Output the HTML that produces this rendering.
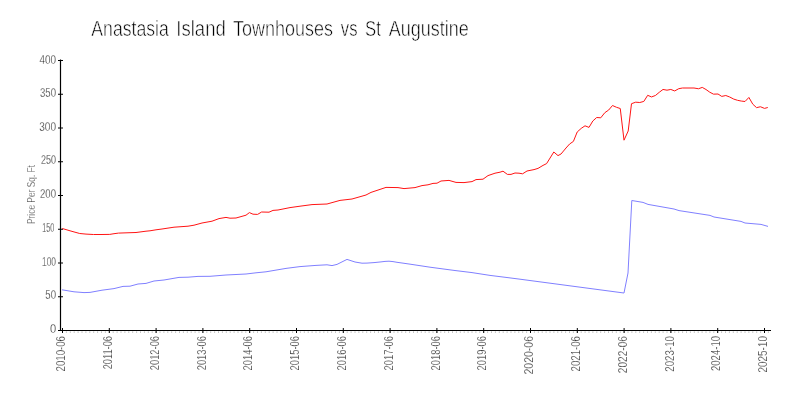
<!DOCTYPE html>
<html><head><meta charset="utf-8"><title>Anastasia Island Townhouses vs St Augustine</title>
<style>html,body{margin:0;padding:0;background:#fff}svg{display:block}text{font-family:"Liberation Sans",sans-serif}</style></head><body>
<svg width="800" height="400" viewBox="0 0 800 400">
<rect width="800" height="400" fill="#fff"/>
<path d="M66.40 331.3V333 M70.30 331.3V333 M74.20 331.3V333 M78.10 331.3V333 M82.00 331.3V333 M85.90 331.3V333 M89.80 331.3V333 M93.70 331.3V333 M97.60 331.3V333 M101.50 331.3V333 M105.40 331.3V333 M109.30 331.3V333 M113.20 331.3V333 M117.10 331.3V333 M121.00 331.3V333 M124.90 331.3V333 M128.80 331.3V333 M132.70 331.3V333 M136.60 331.3V333 M140.50 331.3V333 M144.40 331.3V333 M148.30 331.3V333 M152.20 331.3V333 M156.10 331.3V333 M160.00 331.3V333 M163.90 331.3V333 M167.80 331.3V333 M171.70 331.3V333 M175.60 331.3V333 M179.50 331.3V333 M183.40 331.3V333 M187.30 331.3V333 M191.20 331.3V333 M195.10 331.3V333 M199.00 331.3V333 M202.90 331.3V333 M206.80 331.3V333 M210.70 331.3V333 M214.60 331.3V333 M218.50 331.3V333 M222.40 331.3V333 M226.30 331.3V333 M230.20 331.3V333 M234.10 331.3V333 M238.00 331.3V333 M241.90 331.3V333 M245.80 331.3V333 M249.70 331.3V333 M253.60 331.3V333 M257.50 331.3V333 M261.40 331.3V333 M265.30 331.3V333 M269.20 331.3V333 M273.10 331.3V333 M277.00 331.3V333 M280.90 331.3V333 M284.80 331.3V333 M288.70 331.3V333 M292.60 331.3V333 M296.50 331.3V333 M300.40 331.3V333 M304.30 331.3V333 M308.20 331.3V333 M312.10 331.3V333 M316.00 331.3V333 M319.90 331.3V333 M323.80 331.3V333 M327.70 331.3V333 M331.60 331.3V333 M335.50 331.3V333 M339.40 331.3V333 M343.30 331.3V333 M347.20 331.3V333 M351.10 331.3V333 M355.00 331.3V333 M358.90 331.3V333 M362.80 331.3V333 M366.70 331.3V333 M370.60 331.3V333 M374.50 331.3V333 M378.40 331.3V333 M382.30 331.3V333 M386.20 331.3V333 M390.10 331.3V333 M394.00 331.3V333 M397.90 331.3V333 M401.80 331.3V333 M405.70 331.3V333 M409.60 331.3V333 M413.50 331.3V333 M417.40 331.3V333 M421.30 331.3V333 M425.20 331.3V333 M429.10 331.3V333 M433.00 331.3V333 M436.90 331.3V333 M440.80 331.3V333 M444.70 331.3V333 M448.60 331.3V333 M452.50 331.3V333 M456.40 331.3V333 M460.30 331.3V333 M464.20 331.3V333 M468.10 331.3V333 M472.00 331.3V333 M475.90 331.3V333 M479.80 331.3V333 M483.70 331.3V333 M487.60 331.3V333 M491.50 331.3V333 M495.40 331.3V333 M499.30 331.3V333 M503.20 331.3V333 M507.10 331.3V333 M511.00 331.3V333 M514.90 331.3V333 M518.80 331.3V333 M522.70 331.3V333 M526.60 331.3V333 M530.50 331.3V333 M534.40 331.3V333 M538.30 331.3V333 M542.20 331.3V333 M546.10 331.3V333 M550.00 331.3V333 M553.90 331.3V333 M557.80 331.3V333 M561.70 331.3V333 M565.60 331.3V333 M569.50 331.3V333 M573.40 331.3V333 M577.30 331.3V333 M581.20 331.3V333 M585.10 331.3V333 M589.00 331.3V333 M592.90 331.3V333 M596.80 331.3V333 M600.70 331.3V333 M604.60 331.3V333 M608.50 331.3V333 M612.40 331.3V333 M616.30 331.3V333 M620.20 331.3V333 M624.10 331.3V333 M628.00 331.3V333 M631.90 331.3V333 M635.80 331.3V333 M639.70 331.3V333 M643.60 331.3V333 M647.50 331.3V333 M651.40 331.3V333 M655.30 331.3V333 M659.20 331.3V333 M663.10 331.3V333 M667.00 331.3V333 M670.90 331.3V333 M674.80 331.3V333 M678.70 331.3V333 M682.60 331.3V333 M686.50 331.3V333 M690.40 331.3V333 M694.30 331.3V333 M698.20 331.3V333 M702.10 331.3V333 M706.00 331.3V333 M709.90 331.3V333 M713.80 331.3V333 M717.70 331.3V333 M721.60 331.3V333 M725.50 331.3V333 M729.40 331.3V333 M733.30 331.3V333 M737.20 331.3V333 M741.10 331.3V333 M745.00 331.3V333 M748.90 331.3V333 M752.80 331.3V333 M756.70 331.3V333 M760.60 331.3V333 M764.50 331.3V333 M768.40 331.3V333" stroke="#bdbdbd" stroke-width="0.9" fill="none"/>
<path d="M60.5 59.5V330.5M58 330.5H771" stroke="#000" stroke-width="1.2" fill="none"/>
<path d="M58 330.50H63 M58 296.75H63 M58 263.00H63 M58 229.25H63 M58 195.50H63 M58 161.75H63 M58 128.00H63 M58 94.25H63 M58 60.50H63" stroke="#000" stroke-width="1" fill="none"/>
<path d="M62.50 328V333 M109.30 328V333 M156.10 328V333 M202.90 328V333 M249.70 328V333 M296.50 328V333 M343.30 328V333 M390.10 328V333 M436.90 328V333 M483.70 328V333 M530.50 328V333 M577.30 328V333 M624.10 328V333 M670.90 328V333 M717.70 328V333 M764.50 328V333" stroke="#000" stroke-width="1" fill="none"/>
<polyline points="62.00,289.80 74.00,291.80 84.00,292.60 90.00,292.40 102.00,290.20 114.00,288.60 123.00,286.40 130.00,286.20 138.00,284.00 146.00,283.40 154.00,281.00 164.00,280.00 179.00,277.40 188.00,277.20 198.00,276.40 210.00,276.30 226.00,275.00 246.00,274.00 256.00,272.80 266.00,271.80 286.00,268.40 300.00,266.60 316.00,265.40 327.00,264.80 332.00,265.60 337.00,264.40 347.00,259.40 355.00,262.00 362.00,263.20 367.00,263.10 374.00,262.60 381.00,261.90 385.00,261.40 389.00,261.20 393.00,261.60 397.00,262.30 402.00,263.00 409.00,264.00 430.00,267.20 454.00,270.40 472.00,272.60 490.00,275.40 506.00,277.40 520.00,279.20 624.00,293.00 628.00,273.00 631.80,200.50 643.00,202.40 648.00,204.40 674.00,209.00 679.00,210.60 710.00,215.40 714.00,217.00 741.00,221.40 745.00,223.00 761.00,224.40 768.00,226.40" fill="none" stroke="#8080ff" stroke-width="1" stroke-linejoin="round"/>
<polyline points="62.25,228.50 66.00,229.60 70.00,230.80 75.00,232.20 79.75,233.50 86.00,234.10 93.50,234.50 101.00,234.50 109.75,234.40 114.00,233.70 118.50,233.10 127.00,232.80 136.00,232.50 146.00,231.20 150.00,230.80 156.00,229.80 162.00,229.00 174.00,227.20 188.00,226.20 194.00,225.20 202.00,223.00 212.00,221.20 219.00,218.60 226.00,217.40 230.00,218.20 236.00,218.00 246.00,215.20 249.40,212.60 253.00,214.20 257.60,214.40 261.60,212.00 269.00,212.20 273.00,210.40 278.00,210.00 290.00,207.60 300.00,206.20 312.00,204.60 327.00,204.00 340.00,200.40 352.00,199.00 366.00,195.00 371.00,192.40 386.00,187.40 398.00,187.60 404.00,188.60 415.00,187.60 422.00,185.60 428.00,184.80 433.00,183.40 437.00,183.20 441.00,181.00 449.00,180.40 456.00,182.40 464.00,182.60 472.00,181.60 476.00,179.60 483.00,179.20 488.00,175.60 495.00,173.20 500.00,172.20 503.00,171.20 507.40,174.40 511.00,174.40 515.00,173.00 519.00,173.20 522.60,173.80 527.00,171.00 534.00,169.60 538.00,168.40 543.00,165.40 546.60,163.60 553.80,152.00 558.00,155.60 561.00,154.00 566.00,148.00 569.60,144.00 573.40,141.40 577.20,132.00 581.20,128.40 585.00,125.80 589.00,127.40 592.80,121.00 596.70,117.50 600.75,117.80 604.80,112.70 608.70,110.00 612.50,105.50 616.50,107.30 620.25,108.50 624.00,140.20 628.20,131.00 631.50,103.70 635.70,102.20 639.75,102.50 643.80,101.45 647.70,95.30 651.50,96.95 655.50,95.45 659.25,92.30 663.00,89.45 667.00,90.20 670.80,89.45 674.70,90.95 678.75,88.70 682.50,88.00 694.00,88.00 698.50,88.75 702.25,87.40 706.00,89.50 709.75,92.20 713.50,94.15 718.00,94.00 721.75,96.40 725.80,95.50 729.70,97.00 733.75,99.10 737.50,100.30 741.25,101.05 745.00,101.50 748.90,97.45 752.80,104.20 756.55,107.65 760.45,106.75 764.50,108.40 767.80,107.50" fill="none" stroke="#ff1414" stroke-width="1" stroke-linejoin="round"/>
<text x="39.4" y="63.8" font-size="12.2" fill="#151515" stroke="#fff" stroke-width="0.3" textLength="16.6" lengthAdjust="spacingAndGlyphs">400</text>
<text x="40" y="97.1" font-size="12.2" fill="#151515" stroke="#fff" stroke-width="0.3" textLength="16.0" lengthAdjust="spacingAndGlyphs">350</text>
<text x="39.2" y="130.6" font-size="12.2" fill="#151515" stroke="#fff" stroke-width="0.3" textLength="16.8" lengthAdjust="spacingAndGlyphs">300</text>
<text x="41" y="164.1" font-size="12.2" fill="#151515" stroke="#fff" stroke-width="0.3" textLength="15.0" lengthAdjust="spacingAndGlyphs">250</text>
<text x="40" y="197.9" font-size="12.2" fill="#151515" stroke="#fff" stroke-width="0.3" textLength="16.0" lengthAdjust="spacingAndGlyphs">200</text>
<text x="42.3" y="231.8" font-size="12.2" fill="#151515" stroke="#fff" stroke-width="0.3" textLength="11.9" lengthAdjust="spacingAndGlyphs">150</text>
<text x="42" y="265.6" font-size="12.2" fill="#151515" stroke="#fff" stroke-width="0.3" textLength="14.0" lengthAdjust="spacingAndGlyphs">100</text>
<text x="45.3" y="299.1" font-size="12.2" fill="#151515" stroke="#fff" stroke-width="0.3" textLength="10.7" lengthAdjust="spacingAndGlyphs">50</text>
<text x="49.9" y="332.6" font-size="12.2" fill="#151515" stroke="#fff" stroke-width="0.3" textLength="6.2" lengthAdjust="spacingAndGlyphs">0</text>
<text transform="translate(65.2 371.5) rotate(-90)" font-size="12.4" fill="#151515" stroke="#fff" stroke-width="0.3" textLength="35.5" lengthAdjust="spacingAndGlyphs">2010-06</text>
<text transform="translate(112.0 369.3) rotate(-90)" font-size="12.4" fill="#151515" stroke="#fff" stroke-width="0.3" textLength="33.3" lengthAdjust="spacingAndGlyphs">2011-06</text>
<text transform="translate(158.8 370.2) rotate(-90)" font-size="12.4" fill="#151515" stroke="#fff" stroke-width="0.3" textLength="34.2" lengthAdjust="spacingAndGlyphs">2012-06</text>
<text transform="translate(205.6 370.3) rotate(-90)" font-size="12.4" fill="#151515" stroke="#fff" stroke-width="0.3" textLength="34.3" lengthAdjust="spacingAndGlyphs">2013-06</text>
<text transform="translate(252.4 370.4) rotate(-90)" font-size="12.4" fill="#151515" stroke="#fff" stroke-width="0.3" textLength="34.4" lengthAdjust="spacingAndGlyphs">2014-06</text>
<text transform="translate(299.2 370.4) rotate(-90)" font-size="12.4" fill="#151515" stroke="#fff" stroke-width="0.3" textLength="34.4" lengthAdjust="spacingAndGlyphs">2015-06</text>
<text transform="translate(346.0 370.4) rotate(-90)" font-size="12.4" fill="#151515" stroke="#fff" stroke-width="0.3" textLength="34.4" lengthAdjust="spacingAndGlyphs">2016-06</text>
<text transform="translate(392.8 370.4) rotate(-90)" font-size="12.4" fill="#151515" stroke="#fff" stroke-width="0.3" textLength="34.4" lengthAdjust="spacingAndGlyphs">2017-06</text>
<text transform="translate(439.6 370.4) rotate(-90)" font-size="12.4" fill="#151515" stroke="#fff" stroke-width="0.3" textLength="34.4" lengthAdjust="spacingAndGlyphs">2018-06</text>
<text transform="translate(486.4 370.4) rotate(-90)" font-size="12.4" fill="#151515" stroke="#fff" stroke-width="0.3" textLength="34.4" lengthAdjust="spacingAndGlyphs">2019-06</text>
<text transform="translate(533.2 374.5) rotate(-90)" font-size="12.4" fill="#151515" stroke="#fff" stroke-width="0.3" textLength="38.5" lengthAdjust="spacingAndGlyphs">2020-06</text>
<text transform="translate(580.0 371.5) rotate(-90)" font-size="12.4" fill="#151515" stroke="#fff" stroke-width="0.3" textLength="35.5" lengthAdjust="spacingAndGlyphs">2021-06</text>
<text transform="translate(626.8 373.2) rotate(-90)" font-size="12.4" fill="#151515" stroke="#fff" stroke-width="0.3" textLength="37.2" lengthAdjust="spacingAndGlyphs">2022-06</text>
<text transform="translate(673.6 371.7) rotate(-90)" font-size="12.4" fill="#151515" stroke="#fff" stroke-width="0.3" textLength="35.7" lengthAdjust="spacingAndGlyphs">2023-10</text>
<text transform="translate(720.4 371.0) rotate(-90)" font-size="12.4" fill="#151515" stroke="#fff" stroke-width="0.3" textLength="35.0" lengthAdjust="spacingAndGlyphs">2024-10</text>
<text transform="translate(767.2 372.5) rotate(-90)" font-size="12.4" fill="#151515" stroke="#fff" stroke-width="0.3" textLength="36.5" lengthAdjust="spacingAndGlyphs">2025-10</text>
<text transform="translate(35.3 224) rotate(-90)" font-size="11.8" fill="#151515" stroke="#fff" stroke-width="0.3" textLength="59" lengthAdjust="spacingAndGlyphs">Price Per Sq. Ft</text>
<text y="36.4" font-size="22" fill="#000" stroke="#fff" stroke-width="0.6"><tspan x="91.3" textLength="77.5" lengthAdjust="spacingAndGlyphs">Anastasia</tspan> <tspan x="176.3" textLength="49.5" lengthAdjust="spacingAndGlyphs">Island</tspan> <tspan x="233" textLength="100.0" lengthAdjust="spacingAndGlyphs">Townhouses</tspan> <tspan x="340.8" textLength="16.7" lengthAdjust="spacingAndGlyphs">vs</tspan> <tspan x="365" textLength="15.8" lengthAdjust="spacingAndGlyphs">St</tspan> <tspan x="388.8" textLength="80.0" lengthAdjust="spacingAndGlyphs">Augustine</tspan> </text>
</svg></body></html>
